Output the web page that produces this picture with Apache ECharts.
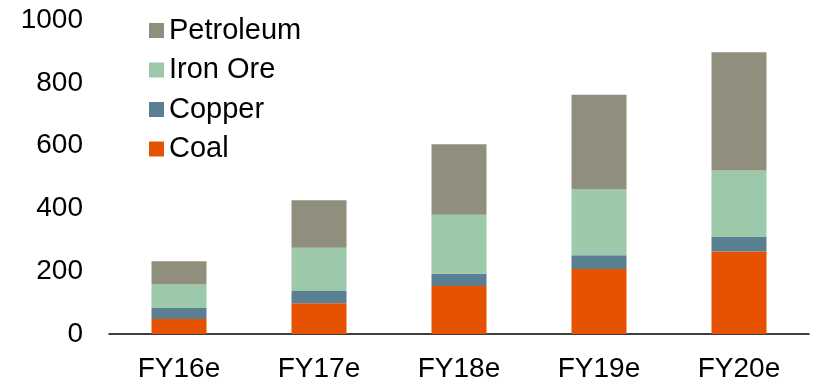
<!DOCTYPE html>
<html>
<head>
<meta charset="utf-8">
<script src="https://cdn.jsdelivr.net/npm/echarts@6/dist/echarts.min.js"></script>
<style>html,body{margin:0;padding:0;background:#fff}#c{width:814px;height:384px}</style>
</head>
<body>
<div id="c"></div>
<script>
const categories = ['FY16e', 'FY17e', 'FY18e', 'FY19e', 'FY20e'];
const coal = [48, 98, 153, 207, 263];
const copper = [35, 39, 39, 44, 46];
const ironOre = [75, 138, 188, 211, 212];
const petroleum = [74, 151, 224, 300, 376];
const yTicks = { min: 0, max: 1000, interval: 200 };

const font = 'Liberation Sans, Arial, sans-serif';
const chart = echarts.init(document.getElementById('c'), null, { renderer: 'canvas' });
function bar(name, data, color) {
  return { name, type: 'bar', stack: 'total', data, barWidth: 55, itemStyle: { color }, emphasis: { disabled: true } };
}
chart.setOption({
  animation: false,
  grid: { left: 109, right: 5, top: 20, bottom: 50, containLabel: false },
  legend: {
    orient: 'vertical', left: 149, top: 16, padding: 0, itemWidth: 15, itemHeight: 15, itemGap: 10.5,
    icon: 'rect',
    data: ['Petroleum', 'Iron Ore', 'Copper', 'Coal'],
    textStyle: { fontFamily: font, fontSize: 29, color: '#000', lineHeight: 28 }
  },
  xAxis: {
    type: 'category', data: categories,
    axisLine: { lineStyle: { color: '#000', width: 1.5 } },
    axisTick: { show: false },
    axisLabel: { fontFamily: font, fontSize: 28, color: '#000', margin: 21 }
  },
  yAxis: {
    type: 'value', min: yTicks.min, max: yTicks.max, interval: yTicks.interval,
    axisLine: { show: false }, axisTick: { show: false }, splitLine: { show: false },
    axisLabel: { fontFamily: font, fontSize: 28, color: '#000', margin: 26, formatter: v => String(v) }
  },
  series: [
    bar('Coal', coal, '#E65200'),
    bar('Copper', copper, '#5B7F92'),
    bar('Iron Ore', ironOre, '#9BC9A9'),
    bar('Petroleum', petroleum, '#908F7E')
  ]
});
</script>
</body>
</html>
